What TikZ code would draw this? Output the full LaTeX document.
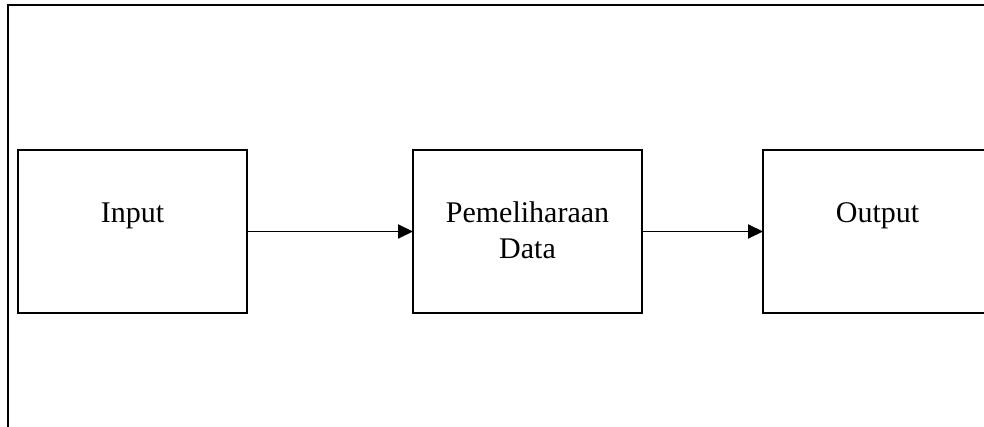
\documentclass[tikz,border=0pt]{standalone}
\usepackage{fontspec}
\setmainfont{Liberation Serif}
\usetikzlibrary{arrows.meta}
\begin{document}
\begin{tikzpicture}[x=1pt,y=-1pt,
  blockbox/.style={draw, line width=2pt, minimum width=229pt, minimum height=163pt, anchor=north west, inner sep=0pt, outer sep=0pt},
  lbl/.style={anchor=base, inner sep=0pt, font=\fontsize{30}{36}\selectfont},
  flow/.style={line width=1.9pt, -{Triangle[length=15pt,width=14pt]}},
  frame/.style={line width=2.5pt}]
\useasboundingbox (0,0) rectangle (984,427);
\clip (0,0) rectangle (984,427);
\coordinate (fbl) at (8,430);
\coordinate (ftl) at (8,5);
\coordinate (ftr) at (990,5);
\draw[frame] (fbl) -- (ftl) -- (ftr);
\node[blockbox] (in) at (18,150) {};
\node[blockbox] (pd) at (413,150) {};
\node[blockbox] (out) at (763,150) {};
\node[lbl] (tin) at (132.5,223) {Input};
\node[lbl] (tpd1) at (527.5,223) {Pemeliharaan};
\node[lbl] (tpd2) at (527.5,259) {Data};
\node[lbl] (tout) at (877.5,223) {Output};
\draw[flow] (in.east) -- (pd.west);
\draw[flow] (pd.east) -- (out.west);
\end{tikzpicture}
\end{document}
